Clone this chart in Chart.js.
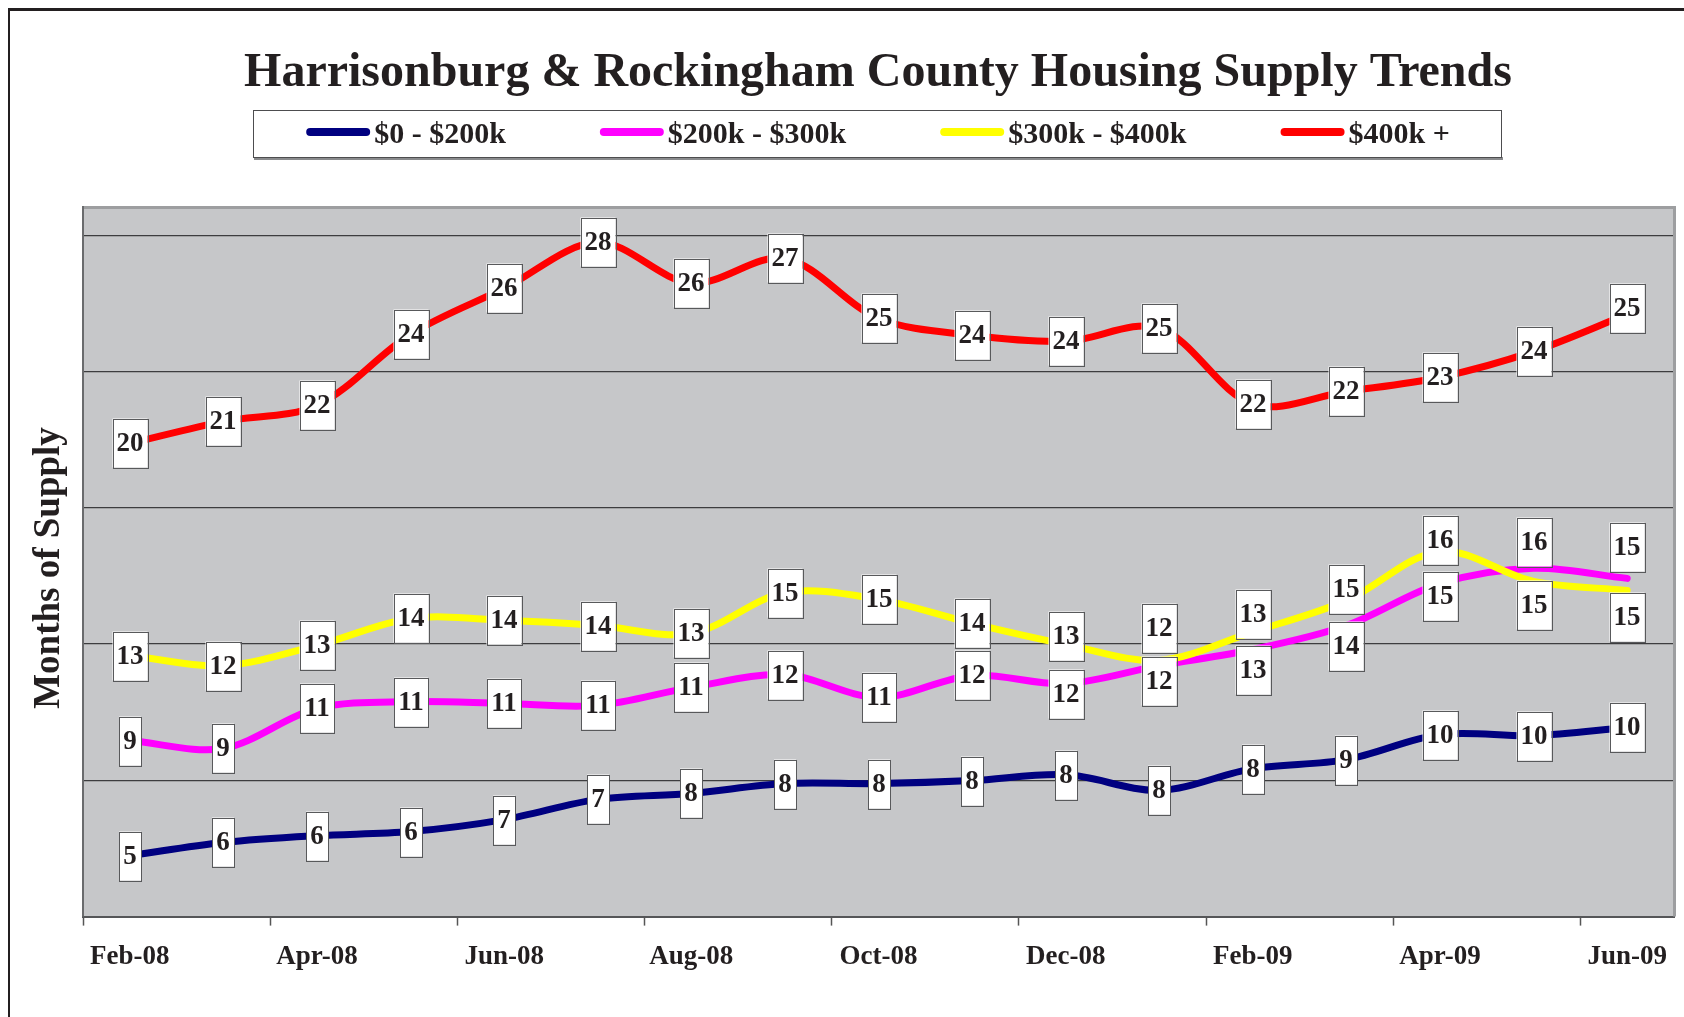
<!DOCTYPE html>
<html>
<head>
<meta charset="utf-8">
<title>Housing Supply Trends</title>
<script src="https://cdn.jsdelivr.net/npm/chart.js@4.4.1/dist/chart.umd.min.js"></script>
<style>
  html, body { margin: 0; padding: 0; background: #fff; }
  canvas { display: block; }
</style>
</head>
<body>
<canvas id="supply" width="1684" height="1017"></canvas>
<script>
// months of supply by price band, Feb-08 .. Jun-09
var months = ['Feb-08', 'Mar-08', 'Apr-08', 'May-08', 'Jun-08', 'Jul-08', 'Aug-08', 'Sep-08', 'Oct-08',
              'Nov-08', 'Dec-08', 'Jan-09', 'Feb-09', 'Mar-09', 'Apr-09', 'May-09', 'Jun-09'];
var under200 = [5.24, 5.72, 5.97, 6.12, 6.56, 7.30, 7.52, 7.88, 7.88, 7.99, 8.21, 7.63, 8.43, 8.76, 9.68, 9.64, 9.94];
var from200 = [9.46, 9.17, 10.64, 10.89, 10.82, 10.75, 11.41, 11.88, 11.04, 11.85, 11.55, 12.21, 12.80, 13.68, 15.22, 15.78, 15.41];
var from300 = [12.58, 12.21, 12.95, 13.94, 13.87, 13.68, 13.39, 14.89, 14.64, 13.76, 12.99, 12.40, 13.45, 14.60, 16.40, 15.30, 14.97];
var over400 = [20.36, 21.17, 21.76, 24.37, 26.05, 27.74, 26.24, 27.15, 24.95, 24.33, 24.11, 24.59, 21.80, 22.27, 22.79, 23.74, 25.10];

var seriesNames = ['$0 - $200k', '$200k - $300k', '$300k - $400k', '$400k +'];
var seriesColors = ['#000080', '#ff00ff', '#ffff00', '#ff0000'];
var gridValues = [3, 8, 13, 18, 23, 28];

var titleText = 'Harrisonburg & Rockingham County Housing Supply Trends';
var yTitle = 'Months of Supply';

// a few labels were dragged off their point so they don't collide (pixels, + is down)
var nudges = [
  {},
  {10: 10, 11: 15, 12: 20, 13: 20, 14: 12, 15: -26, 16: -31},
  {10: -8, 11: -32, 12: -18, 13: -11, 14: -11, 15: 24, 16: 27},
  {16: -6}
];

var FONT = '"Liberation Serif", "Times New Roman", serif';
var INK = '#231f20';

var frame = {
  id: 'frame',
  beforeDraw: function (chart) {
    var ctx = chart.ctx, a = chart.chartArea;
    ctx.save();
    ctx.fillStyle = '#c6c7c9';
    ctx.fillRect(a.left, a.top, a.right - a.left, a.bottom - a.top);
    // outer page frame
    ctx.fillStyle = INK;
    ctx.fillRect(8, 8, chart.width - 8, 3);
    ctx.fillRect(8, 8, 2, chart.height - 8);
    ctx.restore();
  },
  beforeDatasetsDraw: function (chart) {
    var ctx = chart.ctx, a = chart.chartArea;
    ctx.save();
    ctx.strokeStyle = '#9d9ea0';
    ctx.lineWidth = 3;
    ctx.beginPath();
    ctx.moveTo(a.left, a.top - 0.5);
    ctx.lineTo(a.right + 0.5, a.top - 0.5);
    ctx.lineTo(a.right + 0.5, a.bottom);
    ctx.stroke();
    ctx.strokeStyle = '#6a6b6d';
    ctx.lineWidth = 2;
    ctx.beginPath();
    ctx.moveTo(a.left, a.top - 2);
    ctx.lineTo(a.left, a.bottom);
    ctx.stroke();
    ctx.restore();
  },
  afterDatasetsDraw: function (chart) {
    var ctx = chart.ctx;
    ctx.save();
    ctx.font = 'bold 27px ' + FONT;
    ctx.textAlign = 'center';
    ctx.textBaseline = 'middle';
    chart.data.datasets.forEach(function (ds, di) {
      var meta = chart.getDatasetMeta(di);
      meta.data.forEach(function (pt, i) {
        var txt = String(Math.round(ds.data[i]));
        var w = Math.round(ctx.measureText(txt).width + 8), h = 49;
        var x = Math.round(pt.x), y = Math.round(pt.y + (nudges[di][i] || 0));
        ctx.fillStyle = '#fff';
        ctx.fillRect(x - w / 2, y - h / 2, w, h);
        ctx.strokeStyle = '#58595b';
        ctx.lineWidth = 1;
        ctx.strokeRect(Math.round(x - w / 2) + 0.5, Math.round(y - h / 2) + 0.5, w, h);
        ctx.fillStyle = INK;
        ctx.fillText(txt, x, y + 1);
      });
    });
    ctx.restore();
  },
  afterDraw: function (chart) {
    var ctx = chart.ctx;
    ctx.save();
    ctx.fillStyle = INK;
    ctx.textAlign = 'center';
    ctx.textBaseline = 'alphabetic';
    ctx.font = 'bold 48px ' + FONT;
    ctx.fillText(titleText, 878, 86);

    // legend box
    ctx.fillStyle = '#8a8b8d';
    ctx.fillRect(254, 157, 1249, 3);
    ctx.fillStyle = '#fff';
    ctx.fillRect(253, 110, 1248, 47);
    ctx.strokeStyle = '#4d4d4f';
    ctx.lineWidth = 1;
    ctx.strokeRect(253.5, 110.5, 1248, 47);

    ctx.font = 'bold 30px ' + FONT;
    var sym = 64, gap = 4, spread = 94;
    var widths = seriesNames.map(function (s) { return ctx.measureText(s).width; });
    var total = widths.reduce(function (s, w) { return s + sym + gap + w; }, 0) + spread * (seriesNames.length - 1);
    var x = 878 - total / 2;
    ctx.textAlign = 'left';
    ctx.textBaseline = 'middle';
    seriesNames.forEach(function (name, i) {
      ctx.strokeStyle = seriesColors[i];
      ctx.lineWidth = 8;
      ctx.lineCap = 'round';
      ctx.beginPath();
      ctx.moveTo(x + 4, 132);
      ctx.lineTo(x + sym - 4, 132);
      ctx.stroke();
      ctx.fillStyle = INK;
      ctx.fillText(name, x + sym + gap, 135);
      x += sym + gap + widths[i] + spread;
    });

    // y axis title
    ctx.translate(49, 568);
    ctx.rotate(-Math.PI / 2);
    ctx.textAlign = 'center';
    ctx.font = 'bold 37px ' + FONT;
    ctx.fillText(yTitle, 0, 0);
    ctx.restore();
  }
};

function series(i, values, order) {
  return {
    label: seriesNames[i],
    data: values,
    borderColor: seriesColors[i],
    backgroundColor: seriesColors[i],
    borderWidth: 7,
    borderCapStyle: 'round',
    borderJoinStyle: 'round',
    tension: 0.33,
    pointRadius: 0,
    fill: false,
    order: order
  };
}

new Chart(document.getElementById('supply'), {
  type: 'line',
  data: {
    labels: months,
    datasets: [
      series(0, under200, 4),
      series(1, from200, 3),
      series(2, from300, 2),
      series(3, over400, 1)
    ]
  },
  options: {
    responsive: false,
    animation: false,
    layout: { padding: { left: 83, right: 10, top: 208, bottom: 29 } },
    plugins: {
      legend: { display: false },
      title: { display: false },
      tooltip: { enabled: false }
    },
    scales: {
      x: {
        offset: true,
        grid: {
          offset: true,
          drawOnChartArea: false,
          drawTicks: true,
          tickLength: 9,
          tickWidth: 1.5,
          tickColor: function (c) { return c.index % 2 === 0 ? '#555' : 'rgba(0,0,0,0)'; }
        },
        border: { display: true, color: '#555658', width: 2 },
        ticks: {
          autoSkip: false,
          maxRotation: 0,
          padding: 15,
          color: INK,
          font: { family: FONT, size: 27, weight: 'bold' },
          callback: function (v, i) { return i % 2 === 0 ? this.getLabelForValue(v) : ''; }
        }
      },
      y: {
        min: 3,
        max: 29,
        afterBuildTicks: function (s) { s.ticks = gridValues.map(function (v) { return { value: v }; }); },
        grid: { color: '#3d3d3f', lineWidth: 1.2, drawTicks: false },
        border: { display: false },
        ticks: { display: false }
      }
    }
  },
  plugins: [frame]
});
</script>
</body>
</html>
